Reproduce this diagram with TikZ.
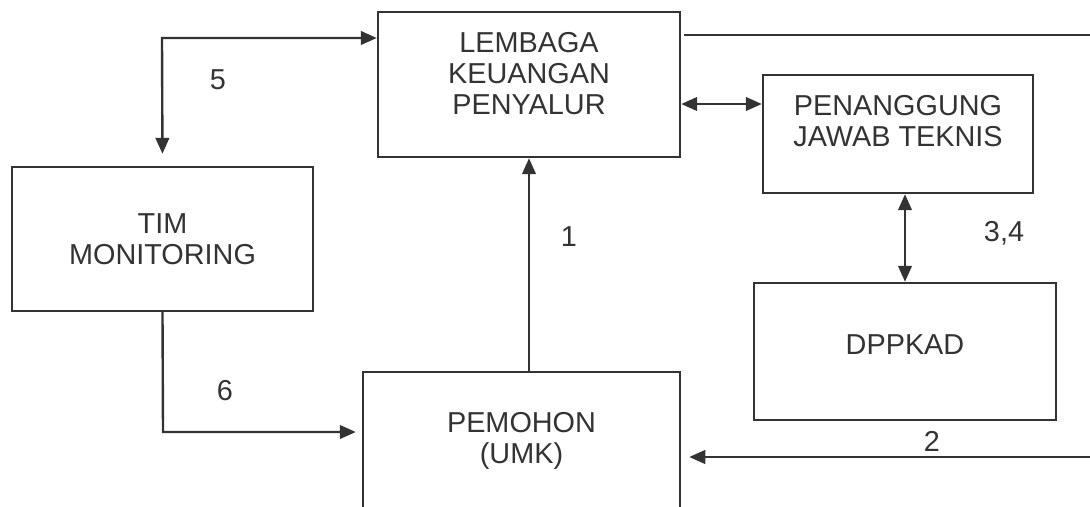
\documentclass[tikz,border=0pt]{standalone}
\usepackage{fontspec}
\setmainfont{Liberation Sans}
\usepackage{xcolor}
\usetikzlibrary{arrows.meta, positioning}

\definecolor{ink}{HTML}{333333}

\begin{document}
\begin{tikzpicture}[
    x=0.025cm, y=-0.025cm,
    box/.style={draw=ink, line width=1.7pt, align=center, text=ink, inner sep=0pt,
        font=\fontsize{20.5}{22}\selectfont},
    lbl/.style={text=ink, inner sep=0pt, font=\fontsize{20.5}{22}\selectfont},
    arr/.style={draw=ink, line width=1.7pt, -{Triangle[length=0.4cm, width=0.34cm]}},
    dblarr/.style={draw=ink, line width=1.7pt, {Triangle[length=0.4cm, width=0.34cm]}-{Triangle[length=0.4cm, width=0.34cm]}}
]
\clip (0,0) rectangle (1090,506);

% Boxes
\node[box, minimum width=7.55cm, minimum height=3.625cm, text depth=0.55cm] (lembaga) at (529,84.5) {LEMBAGA\\KEUANGAN\\PENYALUR};
\node[box, minimum width=6.75cm, minimum height=2.95cm, text depth=0.675cm] (penanggung) at (898,134) {PENANGGUNG\\JAWAB TEKNIS};
\node[box, minimum width=7.525cm, minimum height=3.6cm] (tim) at (162.5,239) {TIM\\MONITORING};
\node[box, minimum width=7.55cm, minimum height=3.425cm, text depth=0.325cm] (dppkad) at (905,351.5) {DPPKAD};
\node[box, minimum width=7.925cm, minimum height=3.45cm] (pemohon) at (521.5,441) {PEMOHON\\(UMK)};

% Lanes and corners
\coordinate (y104) at (0,104);
\coordinate (c5) at (162,38);
\coordinate (c6) at (163,432);
\coordinate (rt) at (1100,35);
\coordinate (rb) at (1100,457);

% Connectors
\draw[arr] (pemohon.north -| lembaga.south) -- (lembaga.south);
\draw[dblarr] (lembaga.east |- y104) -- (penanggung.west |- y104);
\draw[dblarr] (penanggung.south -| dppkad.north) -- (dppkad.north);
\draw[dblarr, shorten <=0.3cm] (tim.north) -- (c5) -- (c5 -| lembaga.west);
\draw[arr, shorten >=0.15cm] (tim.south) -- (c6) -- (c6 -| pemohon.west);
\draw[arr, shorten <=0.075cm, shorten >=0.2cm] (lembaga.east |- rt) -- (rt) -- (rb) -- (pemohon.east |- rb);

% Numbers
\node[lbl] (n1) at (569,237) {1};
\node[lbl] (n2) at (932,441) {2};
\node[lbl] (n34) at (1004,233) {3,4};
\node[lbl] (n5) at (218,80) {5};
\node[lbl] (n6) at (225,391) {6};

\end{tikzpicture}
\end{document}
